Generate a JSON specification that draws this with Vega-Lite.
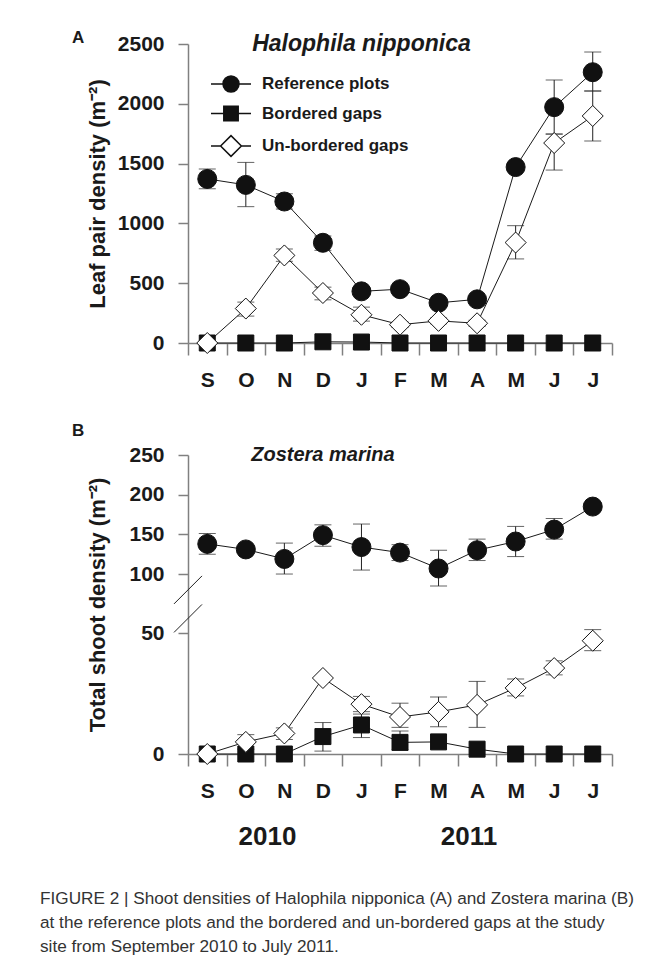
{
  "$schema": "https://vega.github.io/schema/vega-lite/v6.json",
  "background": "white",
  "padding": {"left": 40, "top": 29, "right": 5, "bottom": 5},
  "datasets": {
    "a": [
      {"series": "Bordered gaps", "month": "Sep", "value": 0},
      {"series": "Bordered gaps", "month": "Oct", "value": 0},
      {"series": "Bordered gaps", "month": "Nov", "value": 0},
      {"series": "Bordered gaps", "month": "Dec", "value": 10},
      {"series": "Bordered gaps", "month": "Jan", "value": 8},
      {"series": "Bordered gaps", "month": "Feb", "value": 0},
      {"series": "Bordered gaps", "month": "Mar", "value": 0},
      {"series": "Bordered gaps", "month": "Apr", "value": 0},
      {"series": "Bordered gaps", "month": "May", "value": 0},
      {"series": "Bordered gaps", "month": "Jun", "value": 0},
      {"series": "Bordered gaps", "month": "Jul", "value": 0},
      {"series": "Reference plots", "month": "Sep", "value": 1372, "lower": 1290, "upper": 1455},
      {"series": "Reference plots", "month": "Oct", "value": 1322, "lower": 1140, "upper": 1510},
      {"series": "Reference plots", "month": "Nov", "value": 1183, "lower": 1120, "upper": 1248},
      {"series": "Reference plots", "month": "Dec", "value": 838, "lower": 775, "upper": 895},
      {"series": "Reference plots", "month": "Jan", "value": 432, "lower": 400, "upper": 465},
      {"series": "Reference plots", "month": "Feb", "value": 450, "lower": 425, "upper": 478},
      {"series": "Reference plots", "month": "Mar", "value": 336, "lower": 312, "upper": 360},
      {"series": "Reference plots", "month": "Apr", "value": 365, "lower": 342, "upper": 388},
      {"series": "Reference plots", "month": "May", "value": 1471, "lower": 1450, "upper": 1490},
      {"series": "Reference plots", "month": "Jun", "value": 1972, "lower": 1747, "upper": 2199},
      {"series": "Reference plots", "month": "Jul", "value": 2264, "lower": 2107, "upper": 2433},
      {"series": "Un-bordered gaps", "month": "Sep", "value": 0},
      {"series": "Un-bordered gaps", "month": "Oct", "value": 288, "lower": 225, "upper": 342},
      {"series": "Un-bordered gaps", "month": "Nov", "value": 732, "lower": 683, "upper": 786},
      {"series": "Un-bordered gaps", "month": "Dec", "value": 418, "lower": 361, "upper": 467},
      {"series": "Un-bordered gaps", "month": "Jan", "value": 236, "lower": 183, "upper": 300},
      {"series": "Un-bordered gaps", "month": "Feb", "value": 153, "lower": 130, "upper": 176},
      {"series": "Un-bordered gaps", "month": "Mar", "value": 185, "lower": 160, "upper": 210},
      {"series": "Un-bordered gaps", "month": "Apr", "value": 165, "lower": 140, "upper": 190},
      {"series": "Un-bordered gaps", "month": "May", "value": 840, "lower": 703, "upper": 981},
      {"series": "Un-bordered gaps", "month": "Jun", "value": 1672, "lower": 1446, "upper": 1747},
      {"series": "Un-bordered gaps", "month": "Jul", "value": 1898, "lower": 1689, "upper": 2107}
    ],
    "b": [
      {"series": "Bordered gaps", "month": "Sep", "value": 0},
      {"series": "Bordered gaps", "month": "Oct", "value": 0},
      {"series": "Bordered gaps", "month": "Nov", "value": 0},
      {"series": "Bordered gaps", "month": "Dec", "value": 7.2, "lower": 1.2, "upper": 13},
      {"series": "Bordered gaps", "month": "Jan", "value": 12, "lower": 6.8, "upper": 16.5},
      {"series": "Bordered gaps", "month": "Feb", "value": 4.8, "lower": 1.7, "upper": 9.5},
      {"series": "Bordered gaps", "month": "Mar", "value": 5},
      {"series": "Bordered gaps", "month": "Apr", "value": 2},
      {"series": "Bordered gaps", "month": "May", "value": 0},
      {"series": "Bordered gaps", "month": "Jun", "value": 0},
      {"series": "Bordered gaps", "month": "Jul", "value": 0},
      {"series": "Reference plots", "month": "Sep", "value": 138, "lower": 125, "upper": 151},
      {"series": "Reference plots", "month": "Oct", "value": 131},
      {"series": "Reference plots", "month": "Nov", "value": 119, "lower": 100, "upper": 139},
      {"series": "Reference plots", "month": "Dec", "value": 149, "lower": 135, "upper": 162},
      {"series": "Reference plots", "month": "Jan", "value": 134, "lower": 105, "upper": 163},
      {"series": "Reference plots", "month": "Feb", "value": 127, "lower": 117, "upper": 137},
      {"series": "Reference plots", "month": "Mar", "value": 107, "lower": 85, "upper": 130},
      {"series": "Reference plots", "month": "Apr", "value": 130, "lower": 117, "upper": 144},
      {"series": "Reference plots", "month": "May", "value": 141, "lower": 122, "upper": 160},
      {"series": "Reference plots", "month": "Jun", "value": 156, "lower": 144, "upper": 170},
      {"series": "Reference plots", "month": "Jul", "value": 185},
      {"series": "Un-bordered gaps", "month": "Sep", "value": 0},
      {"series": "Un-bordered gaps", "month": "Oct", "value": 5, "lower": 2, "upper": 8},
      {"series": "Un-bordered gaps", "month": "Nov", "value": 8.5, "lower": 6, "upper": 10.8},
      {"series": "Un-bordered gaps", "month": "Dec", "value": 31.4},
      {"series": "Un-bordered gaps", "month": "Jan", "value": 20.6, "lower": 17.5, "upper": 23.8},
      {"series": "Un-bordered gaps", "month": "Feb", "value": 15.3, "lower": 11, "upper": 21},
      {"series": "Un-bordered gaps", "month": "Mar", "value": 17.4, "lower": 11.3, "upper": 23.6},
      {"series": "Un-bordered gaps", "month": "Apr", "value": 20.3, "lower": 11, "upper": 30},
      {"series": "Un-bordered gaps", "month": "May", "value": 27.3, "lower": 24, "upper": 31},
      {"series": "Un-bordered gaps", "month": "Jun", "value": 35.5, "lower": 32.7, "upper": 38.5},
      {"series": "Un-bordered gaps", "month": "Jul", "value": 46.8, "lower": 42.7, "upper": 51.4}
    ]
  },
  "title": {
    "text": [
      "FIGURE 2 | Shoot densities of Halophila nipponica (A) and Zostera marina (B)",
      "at the reference plots and the bordered and un-bordered gaps at the study",
      "site from September 2010 to July 2011."
    ],
    "orient": "bottom",
    "anchor": "start",
    "frame": "group",
    "dx": -148,
    "offset": 41,
    "font": "Liberation Sans",
    "fontSize": 17.2,
    "fontWeight": "normal",
    "color": "#333333",
    "lineHeight": 24
  },
  "config": {
    "font": "Liberation Sans",
    "view": {"stroke": null},
    "axis": {
      "grid": false,
      "domainColor": "#808080",
      "domainWidth": 1.5,
      "tickColor": "#808080",
      "tickWidth": 1.5,
      "labelFont": "Liberation Sans",
      "labelFontWeight": "bold",
      "labelFontSize": 21,
      "labelColor": "#1a1a1a",
      "titleFont": "Liberation Sans",
      "titleFontWeight": "bold",
      "titleFontSize": 22,
      "titleColor": "#1a1a1a"
    },
    "title": {"font": "Liberation Sans", "color": "#1a1a1a"}
  },
  "spacing": 32,
  "vconcat": [
    {
      "width": 424,
      "height": 299,
      "title": {"text": "A", "anchor": "start", "frame": "group", "dx": -116, "offset": -14, "fontSize": 17, "fontWeight": "bold"},
      "data": {"name": "a"},
      "encoding": {
        "x": {
          "field": "month", "type": "nominal",
          "sort": ["Sep","Oct","Nov","Dec","Jan","Feb","Mar","Apr","May","Jun","Jul"],
          "scale": {"type": "band", "domain": ["Sep","Oct","Nov","Dec","Jan","Feb","Mar","Apr","May","Jun","Jul"], "paddingInner": 0, "paddingOuter": 0},
          "axis": {"title": null, "labelExpr": "substring(datum.label, 0, 1)", "labelAngle": 0, "tickBand": "extent", "tickSize": 12, "labelPadding": 14}
        }
      },
      "layer": [
        {
          "transform": [{"filter": "isValid(datum.lower)"}],
          "mark": {"type": "rule", "color": "#222222", "strokeWidth": 1},
          "encoding": {
            "y": {"field": "lower", "type": "quantitative", "scale": {"domain": [0, 2500], "nice": false},
              "axis": {"title": "Leaf pair density (m\u207b\u00b2)", "format": "d", "values": [0, 500, 1000, 1500, 2000, 2500], "tickSize": 10, "labelPadding": 14, "titleX": -79, "titleY": 149.5}},
            "y2": {"field": "upper"}
          }
        },
        {
          "transform": [{"filter": "isValid(datum.lower)"}],
          "mark": {"type": "tick", "color": "#222222", "size": 17, "thickness": 1, "orient": "horizontal"},
          "encoding": {"y": {"field": "lower", "type": "quantitative", "scale": {"domain": [0, 2500], "nice": false},
              "axis": {"title": "Leaf pair density (m\u207b\u00b2)", "format": "d", "values": [0, 500, 1000, 1500, 2000, 2500], "tickSize": 10, "labelPadding": 14, "titleX": -79, "titleY": 149.5}}}
        },
        {
          "transform": [{"filter": "isValid(datum.upper)"}],
          "mark": {"type": "tick", "color": "#222222", "size": 17, "thickness": 1, "orient": "horizontal"},
          "encoding": {"y": {"field": "upper", "type": "quantitative", "scale": {"domain": [0, 2500], "nice": false},
              "axis": {"title": "Leaf pair density (m\u207b\u00b2)", "format": "d", "values": [0, 500, 1000, 1500, 2000, 2500], "tickSize": 10, "labelPadding": 14, "titleX": -79, "titleY": 149.5}}}
        },
        {
          "mark": {"type": "line", "color": "#1a1a1a", "strokeWidth": 1},
          "encoding": {
            "y": {"field": "value", "type": "quantitative", "scale": {"domain": [0, 2500], "nice": false},
              "axis": {"title": "Leaf pair density (m\u207b\u00b2)", "format": "d", "values": [0, 500, 1000, 1500, 2000, 2500], "tickSize": 10, "labelPadding": 14, "titleX": -79, "titleY": 149.5}},
            "detail": {"field": "series"}
          }
        },
        {
          "transform": [{"filter": "datum.series === 'Bordered gaps'"}],
          "mark": {"type": "point", "shape": "square", "filled": true, "fill": "#111111", "stroke": "#111111", "strokeWidth": 1, "opacity": 1, "size": 256},
          "encoding": {
            "y": {"field": "value", "type": "quantitative", "scale": {"domain": [0, 2500], "nice": false},
              "axis": {"title": "Leaf pair density (m\u207b\u00b2)", "format": "d", "values": [0, 500, 1000, 1500, 2000, 2500], "tickSize": 10, "labelPadding": 14, "titleX": -79, "titleY": 149.5}}
          }
        },
        {
          "transform": [{"filter": "datum.series === 'Reference plots'"}],
          "mark": {"type": "point", "shape": "circle", "filled": true, "fill": "#111111", "stroke": "#111111", "strokeWidth": 1, "opacity": 1, "size": 361},
          "encoding": {
            "y": {"field": "value", "type": "quantitative", "scale": {"domain": [0, 2500], "nice": false},
              "axis": {"title": "Leaf pair density (m\u207b\u00b2)", "format": "d", "values": [0, 500, 1000, 1500, 2000, 2500], "tickSize": 10, "labelPadding": 14, "titleX": -79, "titleY": 149.5}}
          }
        },
        {
          "transform": [{"filter": "datum.series === 'Un-bordered gaps'"}],
          "mark": {"type": "point", "shape": "diamond", "filled": true, "fill": "white", "stroke": "#111111", "strokeWidth": 1, "opacity": 1, "size": 441},
          "encoding": {
            "y": {"field": "value", "type": "quantitative", "scale": {"domain": [0, 2500], "nice": false},
              "axis": {"title": "Leaf pair density (m\u207b\u00b2)", "format": "d", "values": [0, 500, 1000, 1500, 2000, 2500], "tickSize": 10, "labelPadding": 14, "titleX": -79, "titleY": 149.5}}
          }
        },
        {
          "transform": [{"filter": "false"}],
          "mark": {"type": "point", "filled": true, "stroke": "#111111", "strokeWidth": 1, "opacity": 1},
          "encoding": {
            "y": {"field": "value", "type": "quantitative", "scale": {"domain": [0, 2500], "nice": false},
              "axis": {"title": "Leaf pair density (m\u207b\u00b2)", "format": "d", "values": [0, 500, 1000, 1500, 2000, 2500], "tickSize": 10, "labelPadding": 14, "titleX": -79, "titleY": 149.5}},
            "fill": {"field": "series", "type": "nominal",
              "scale": {"domain": ["Reference plots", "Bordered gaps", "Un-bordered gaps"], "range": ["#111111", "#111111", "white"]},
              "legend": {
                "orient": "none", "legendX": 34, "legendY": 31, "title": null, "padding": 0,
                "labelFont": "Liberation Sans", "labelFontSize": 17, "labelFontWeight": "bold", "labelColor": "#1a1a1a",
                "symbolSize": 256, "labelOffset": 22, "rowPadding": 7.5
              }},
            "shape": {"field": "series", "type": "nominal",
              "scale": {"domain": ["Reference plots", "Bordered gaps", "Un-bordered gaps"],
                "range": [
                  "M-2.5,0H-1M1,0H2.5M1,0C1,0.5523,0.5523,1,0,1C-0.5523,1,-1,0.5523,-1,0C-1,-0.5523,-0.5523,-1,0,-1C0.5523,-1,1,-0.5523,1,0Z",
                  "M-2.5,0H-0.9M0.9,0H2.5M-0.9,-0.9H0.9V0.9H-0.9Z",
                  "M-2.5,0H-1.3M1.3,0H2.5M-1.3,0L0,-1.3L1.3,0L0,1.3Z"
                ]},
              "legend": {
                "orient": "none", "legendX": 34, "legendY": 31, "title": null, "padding": 0,
                "labelFont": "Liberation Sans", "labelFontSize": 17, "labelFontWeight": "bold", "labelColor": "#1a1a1a",
                "symbolSize": 256, "labelOffset": 22, "rowPadding": 7.5
              }}
          }
        },
        {
          "data": {"values": [{}]},
          "mark": {"type": "text", "text": "Halophila nipponica", "font": "Liberation Sans", "fontSize": 23, "fontWeight": "bold", "fontStyle": "italic", "baseline": "middle", "align": "center", "color": "#1a1a1a"},
          "encoding": {
            "x": {"datum": "Jan", "type": "nominal", "scale": {"type": "band", "domain": ["Sep","Oct","Nov","Dec","Jan","Feb","Mar","Apr","May","Jun","Jul"], "paddingInner": 0, "paddingOuter": 0}},
            "y": {"datum": 2500, "type": "quantitative", "scale": {"domain": [0, 2500], "nice": false},
              "axis": {"title": "Leaf pair density (m\u207b\u00b2)", "format": "d", "values": [0, 500, 1000, 1500, 2000, 2500], "tickSize": 10, "labelPadding": 14, "titleX": -79, "titleY": 149.5}}
          }
        }
      ]
    },
    {
      "width": 424,
      "height": 299,
      "title": {"text": "B", "anchor": "start", "frame": "group", "dx": -116, "offset": 4, "fontSize": 17, "fontWeight": "bold"},
      "data": {"name": "b"},
      "encoding": {
        "x": {
          "field": "month", "type": "nominal",
          "sort": ["Sep","Oct","Nov","Dec","Jan","Feb","Mar","Apr","May","Jun","Jul"],
          "scale": {"type": "band", "domain": ["Sep","Oct","Nov","Dec","Jan","Feb","Mar","Apr","May","Jun","Jul"], "paddingInner": 0, "paddingOuter": 0},
          "axis": {"title": "2010\u00a0\u00a0\u00a0\u00a0\u00a0\u00a0\u00a0\u00a0\u00a0\u00a0\u00a0\u00a0\u00a0\u00a0\u00a0\u00a0\u00a0\u00a0\u00a0\u00a02011",
            "titleFontSize": 26, "titleAnchor": "start", "titleAlign": "left", "titleBaseline": "middle", "titleX": 50, "titleY": 82,
            "labelExpr": "substring(datum.label, 0, 1)", "labelAngle": 0, "tickBand": "extent", "tickSize": 12, "labelPadding": 14}
        }
      },
      "layer": [
        {
          "transform": [{"filter": "isValid(datum.lower)"}],
          "mark": {"type": "rule", "color": "#222222", "strokeWidth": 1},
          "encoding": {
            "y": {"field": "lower", "type": "quantitative", "scale": {"domain": [0, 55, 80, 250], "range": [299, 165.9, 134.9, 0], "nice": false, "zero": false},
              "axis": {"title": "Total shoot density (m\u207b\u00b2)", "values": [0, 50, 100, 150, 200, 250], "tickSize": 10, "labelPadding": 14, "titleX": -79, "titleY": 149.5}},
            "y2": {"field": "upper"}
          }
        },
        {
          "transform": [{"filter": "isValid(datum.lower)"}],
          "mark": {"type": "tick", "color": "#222222", "size": 17, "thickness": 1, "orient": "horizontal"},
          "encoding": {"y": {"field": "lower", "type": "quantitative", "scale": {"domain": [0, 55, 80, 250], "range": [299, 165.9, 134.9, 0], "nice": false, "zero": false},
              "axis": {"title": "Total shoot density (m\u207b\u00b2)", "values": [0, 50, 100, 150, 200, 250], "tickSize": 10, "labelPadding": 14, "titleX": -79, "titleY": 149.5}}}
        },
        {
          "transform": [{"filter": "isValid(datum.upper)"}],
          "mark": {"type": "tick", "color": "#222222", "size": 17, "thickness": 1, "orient": "horizontal"},
          "encoding": {"y": {"field": "upper", "type": "quantitative", "scale": {"domain": [0, 55, 80, 250], "range": [299, 165.9, 134.9, 0], "nice": false, "zero": false},
              "axis": {"title": "Total shoot density (m\u207b\u00b2)", "values": [0, 50, 100, 150, 200, 250], "tickSize": 10, "labelPadding": 14, "titleX": -79, "titleY": 149.5}}}
        },
        {
          "mark": {"type": "line", "color": "#1a1a1a", "strokeWidth": 1},
          "encoding": {
            "y": {"field": "value", "type": "quantitative", "scale": {"domain": [0, 55, 80, 250], "range": [299, 165.9, 134.9, 0], "nice": false, "zero": false},
              "axis": {"title": "Total shoot density (m\u207b\u00b2)", "values": [0, 50, 100, 150, 200, 250], "tickSize": 10, "labelPadding": 14, "titleX": -79, "titleY": 149.5}},
            "detail": {"field": "series"}
          }
        },
        {
          "transform": [{"filter": "datum.series === 'Bordered gaps'"}],
          "mark": {"type": "point", "shape": "square", "filled": true, "fill": "#111111", "stroke": "#111111", "strokeWidth": 1, "opacity": 1, "size": 256},
          "encoding": {
            "y": {"field": "value", "type": "quantitative", "scale": {"domain": [0, 55, 80, 250], "range": [299, 165.9, 134.9, 0], "nice": false, "zero": false},
              "axis": {"title": "Total shoot density (m\u207b\u00b2)", "values": [0, 50, 100, 150, 200, 250], "tickSize": 10, "labelPadding": 14, "titleX": -79, "titleY": 149.5}}
          }
        },
        {
          "transform": [{"filter": "datum.series === 'Reference plots'"}],
          "mark": {"type": "point", "shape": "circle", "filled": true, "fill": "#111111", "stroke": "#111111", "strokeWidth": 1, "opacity": 1, "size": 361},
          "encoding": {
            "y": {"field": "value", "type": "quantitative", "scale": {"domain": [0, 55, 80, 250], "range": [299, 165.9, 134.9, 0], "nice": false, "zero": false},
              "axis": {"title": "Total shoot density (m\u207b\u00b2)", "values": [0, 50, 100, 150, 200, 250], "tickSize": 10, "labelPadding": 14, "titleX": -79, "titleY": 149.5}}
          }
        },
        {
          "transform": [{"filter": "datum.series === 'Un-bordered gaps'"}],
          "mark": {"type": "point", "shape": "diamond", "filled": true, "fill": "white", "stroke": "#111111", "strokeWidth": 1, "opacity": 1, "size": 441},
          "encoding": {
            "y": {"field": "value", "type": "quantitative", "scale": {"domain": [0, 55, 80, 250], "range": [299, 165.9, 134.9, 0], "nice": false, "zero": false},
              "axis": {"title": "Total shoot density (m\u207b\u00b2)", "values": [0, 50, 100, 150, 200, 250], "tickSize": 10, "labelPadding": 14, "titleX": -79, "titleY": 149.5}}
          }
        },
        {
          "data": {"values": [{}]},
          "mark": {"type": "point", "shape": "M-1,1L1,-1", "size": 784, "filled": false, "stroke": "#222222", "strokeWidth": 1, "opacity": 1},
          "encoding": {
            "x": {"datum": "Sep", "type": "nominal", "bandPosition": 0, "scale": {"type": "band", "domain": ["Sep","Oct","Nov","Dec","Jan","Feb","Mar","Apr","May","Jun","Jul"], "paddingInner": 0, "paddingOuter": 0}},
            "y": {"datum": 80, "type": "quantitative", "scale": {"domain": [0, 55, 80, 250], "range": [299, 165.9, 134.9, 0], "nice": false, "zero": false},
              "axis": {"title": "Total shoot density (m\u207b\u00b2)", "values": [0, 50, 100, 150, 200, 250], "tickSize": 10, "labelPadding": 14, "titleX": -79, "titleY": 149.5}}
          }
        },
        {
          "data": {"values": [{}]},
          "mark": {"type": "point", "shape": "M-1,1L1,-1", "size": 784, "filled": false, "stroke": "#222222", "strokeWidth": 1, "opacity": 1},
          "encoding": {
            "x": {"datum": "Sep", "type": "nominal", "bandPosition": 0, "scale": {"type": "band", "domain": ["Sep","Oct","Nov","Dec","Jan","Feb","Mar","Apr","May","Jun","Jul"], "paddingInner": 0, "paddingOuter": 0}},
            "y": {"datum": 57, "type": "quantitative", "scale": {"domain": [0, 55, 80, 250], "range": [299, 165.9, 134.9, 0], "nice": false, "zero": false},
              "axis": {"title": "Total shoot density (m\u207b\u00b2)", "values": [0, 50, 100, 150, 200, 250], "tickSize": 10, "labelPadding": 14, "titleX": -79, "titleY": 149.5}}
          }
        },
        {
          "data": {"values": [{}]},
          "mark": {"type": "text", "text": "Zostera marina", "font": "Liberation Sans", "fontSize": 20, "fontWeight": "bold", "fontStyle": "italic", "baseline": "middle", "align": "center", "color": "#1a1a1a"},
          "encoding": {
            "x": {"datum": "Dec", "type": "nominal", "scale": {"type": "band", "domain": ["Sep","Oct","Nov","Dec","Jan","Feb","Mar","Apr","May","Jun","Jul"], "paddingInner": 0, "paddingOuter": 0}},
            "y": {"datum": 250, "type": "quantitative", "scale": {"domain": [0, 55, 80, 250], "range": [299, 165.9, 134.9, 0], "nice": false, "zero": false},
              "axis": {"title": "Total shoot density (m\u207b\u00b2)", "values": [0, 50, 100, 150, 200, 250], "tickSize": 10, "labelPadding": 14, "titleX": -79, "titleY": 149.5}}
          }
        }
      ]
    }
  ]
}
